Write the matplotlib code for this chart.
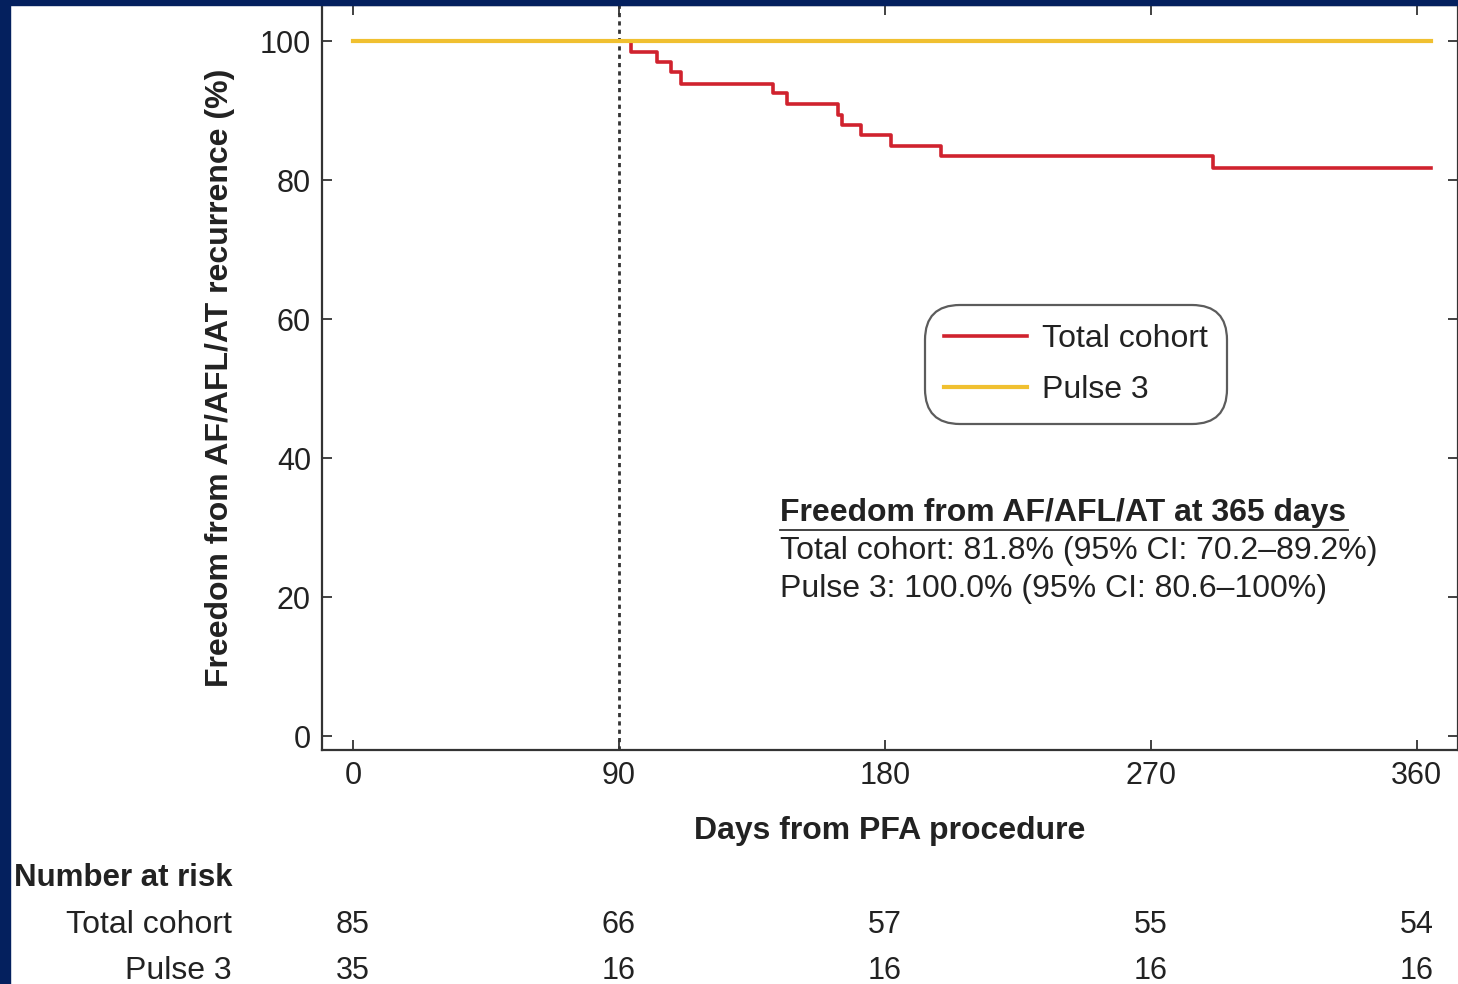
import matplotlib.pyplot as plt
from matplotlib.patches import Rectangle

plt.rcParams['font.family'] = ['Liberation Sans', 'DejaVu Sans']

# Kaplan-Meier step data (days, freedom %)
total_days = [0, 94, 103, 107.5, 111, 142, 147, 164, 165.5, 172, 182, 199, 291, 365]
total_surv = [100, 98.5, 97.0, 95.6, 93.9, 92.5, 90.9, 89.4, 87.9, 86.5, 84.9, 83.5, 81.8, 81.8]
pulse3_days = [0, 365]
pulse3_surv = [100, 100]

risk_times = [0, 90, 180, 270, 360]
risk_total = [85, 66, 57, 55, 54]
risk_pulse3 = [35, 16, 16, 16, 16]

W, H = 1458, 984
fig = plt.figure(figsize=(W / 100, H / 100), dpi=100, facecolor='white')

def fx(px):
    return px / W

def fy(py):
    return 1 - py / H

ax = fig.add_axes([fx(322), fy(750), fx(1458) - fx(322), fy(5) - fy(750)])
ax.set_xlim(-10.5, 374)
ax.set_ylim(-2.0, 105.2)

red = '#d0222e'
gold = '#f0c030'
txt = '#222222'

ax.step(total_days, total_surv, where='post', color=red, lw=2.6, label='Total cohort', zorder=3)
ax.step(pulse3_days, pulse3_surv, where='post', color=gold, lw=3.0, label='Pulse 3', zorder=4)
ax.axvline(90, color='#333333', lw=2, ls=(0, (1.5, 1.5)), zorder=2)

ax.set_xticks(risk_times)
ax.set_yticks([0, 20, 40, 60, 80, 100])
ax.tick_params(direction='in', top=True, right=True, length=7, width=1.3,
               labelsize=22, colors='#333333', labelcolor=txt, pad=8)
for s in ax.spines.values():
    s.set_linewidth(1.6)
    s.set_color('#333333')

ax.set_xlabel('Days from PFA procedure', fontsize=23, fontweight='bold', color=txt, labelpad=18)
ax.set_ylabel('Freedom from AF/AFL/AT recurrence (%)', fontsize=23, fontweight='bold', color=txt, labelpad=18)

leg = ax.legend(loc='upper left',
                bbox_to_anchor=(fx(925), fy(305)), bbox_transform=fig.transFigure,
                fontsize=23, frameon=True, handlelength=2.6, handletextpad=0.45,
                borderpad=0.6, labelspacing=0.65, borderaxespad=0)
frame = leg.get_frame()
frame.set_edgecolor('#333333')
frame.set_linewidth(1.6)
frame.set_boxstyle('round,pad=0,rounding_size=1.1')
for t in leg.get_texts():
    t.set_color(txt)

# annotation block
fig.text(fx(780), fy(513), 'Freedom from AF/AFL/AT at 365 days', fontsize=23,
         fontweight='bold', color=txt, va='center', ha='left')
fig.add_artist(plt.Line2D([fx(780), fx(1348)], [fy(530), fy(530)], color='#333333', lw=1.3))
fig.text(fx(780), fy(551), 'Total cohort: 81.8% (95% CI: 70.2\u201389.2%)', fontsize=23,
         color=txt, va='center', ha='left')
fig.text(fx(780), fy(589), 'Pulse 3: 100.0% (95% CI: 80.6\u2013100%)', fontsize=23,
         color=txt, va='center', ha='left')

# number at risk table
fig.text(fx(232), fy(878), 'Number at risk', fontsize=22.5, fontweight='bold', color=txt,
         ha='right', va='center')
fig.text(fx(232), fy(925), 'Total cohort', fontsize=23, color=txt, ha='right', va='center')
fig.text(fx(232), fy(971), 'Pulse 3', fontsize=23, color=txt, ha='right', va='center')
for t, a, b in zip(risk_times, risk_total, risk_pulse3):
    xd = ax.transData.transform((t, 0))[0]
    xf = fig.transFigure.inverted().transform((xd, 0))[0]
    fig.text(xf, fy(925), str(a), fontsize=22, color=txt, ha='center', va='center')
    fig.text(xf, fy(971), str(b), fontsize=22, color=txt, ha='center', va='center')

# navy border
navy = '#04205e'
fig.add_artist(Rectangle((0, 0), fx(10), 1, transform=fig.transFigure, color=navy, zorder=10))
fig.add_artist(Rectangle((0, fy(5)), 1, fy(0) - fy(5), transform=fig.transFigure, color=navy, zorder=10))

fig.savefig('out.png', dpi=100, facecolor='white')
